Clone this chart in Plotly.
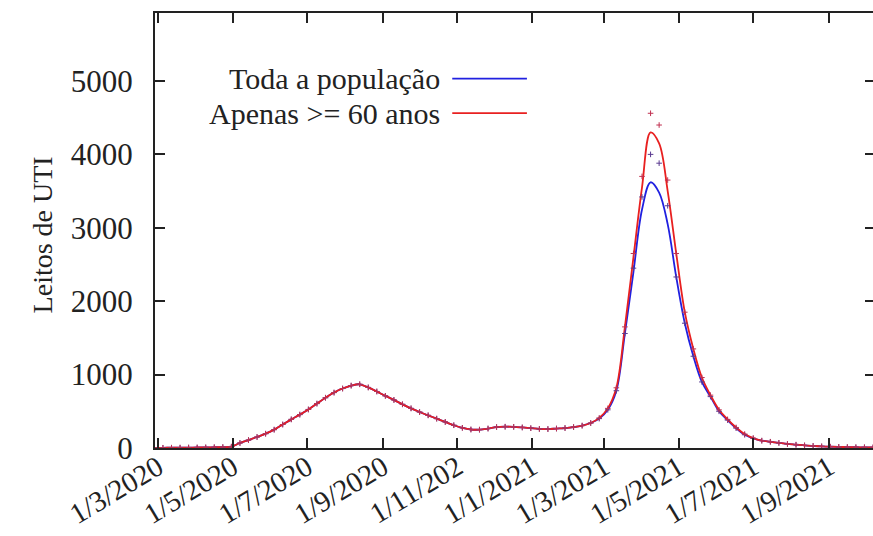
import pandas as pd
import plotly.graph_objects as go

# weekly sample dates
dates = pd.date_range("2020-02-27", periods=85, freq="7D")

toda = [3, 3, 4, 5, 6, 7, 8, 10, 12, 18,
        68, 108, 150, 195, 250, 320, 390, 455, 525, 605,
        685, 755, 810, 850, 868, 825, 770, 710, 655, 595,
        540, 490, 445, 400, 355, 310, 275, 252, 250, 265,
        285, 290, 288, 280, 270, 260, 258, 265, 272, 285,
        305, 340, 400, 520, 780, 1560, 2400, 3250, 3620, 3480,
        3050, 2330, 1700, 1250, 900, 700, 500, 380, 270, 180,
        130, 100, 85, 70, 55, 45, 35, 28, 22, 18,
        15, 12, 10, 9, 8]

idosos = [3, 3, 4, 5, 6, 7, 8, 10, 12, 18,
          68, 108, 150, 195, 250, 320, 390, 455, 525, 605,
          685, 755, 810, 850, 868, 825, 770, 710, 655, 595,
          540, 490, 445, 400, 355, 310, 275, 252, 250, 265,
          285, 290, 288, 280, 270, 260, 258, 265, 272, 285,
          305, 340, 410, 540, 820, 1650, 2600, 3550, 4300, 4150,
          3500, 2650, 1850, 1350, 960, 720, 520, 390, 280, 190,
          135, 100, 85, 70, 55, 45, 35, 28, 22, 18,
          15, 12, 10, 9, 8]

toda_sup = toda[:56] + [2450, 3420, 4000, 3880, 3300] + toda[61:]
idosos_sup = idosos[:56] + [2650, 3700, 4560, 4400, 3650] + idosos[61:]

tick_dates = ["2020-03-01", "2020-05-01", "2020-07-01", "2020-09-01", "2020-11-01",
              "2021-01-01", "2021-03-01", "2021-05-01", "2021-07-01", "2021-09-01"]
tick_labels = ["1/3/2020", "1/5/2020", "1/7/2020", "1/9/2020", "1/11/202",
               "1/1/2021", "1/3/2021", "1/5/2021", "1/7/2021", "1/9/2021"]
y_ticks = [0, 1000, 2000, 3000, 4000, 5000]

BLUE = "#2020e0"
RED = "#e82020"
FONT = "Liberation Serif"
TXT = "#222222"

fig = go.Figure()
fig.add_trace(go.Scatter(x=dates, y=toda, mode="lines", line=dict(color=BLUE, width=1.8, shape="spline"),
                         name="Toda a população", showlegend=False))
fig.add_trace(go.Scatter(x=dates, y=idosos, mode="lines", line=dict(color=RED, width=1.8, shape="spline"),
                         name="Apenas >= 60 anos", showlegend=False))
fig.add_trace(go.Scatter(x=dates, y=toda_sup, mode="markers",
                         marker=dict(symbol="cross-thin", size=4, line=dict(color="#5a3a90", width=1)),
                         showlegend=False, hoverinfo="skip"))
fig.add_trace(go.Scatter(x=dates, y=idosos_sup, mode="markers",
                         marker=dict(symbol="cross-thin", size=4, line=dict(color="#c03050", width=1)),
                         showlegend=False, hoverinfo="skip"))
fig.add_trace(go.Scatter(x=[dates[0]], y=[0], yaxis="y2", mode="markers",
                         marker=dict(opacity=0), showlegend=False, hoverinfo="skip"))

fig.update_layout(
    width=873, height=536,
    margin=dict(l=155, r=0, t=13, b=88),
    paper_bgcolor="white", plot_bgcolor="white",
    font=dict(family=FONT, color=TXT),
    xaxis=dict(type="date", range=["2020-02-27 12:00", "2021-10-07"],
               tickvals=tick_dates, ticktext=tick_labels, tickangle=-31, automargin=False,
               ticks="inside", ticklen=10, tickwidth=1.5, tickcolor=TXT,
               showline=True, linecolor=TXT, linewidth=2, mirror="ticks",
               showgrid=False, zeroline=False, tickfont=dict(size=29, family=FONT),
               ticklabelstandoff=-11),
    yaxis=dict(range=[0, 5926], tickvals=y_ticks, ticks="inside", ticklen=10, tickwidth=1.5,
               tickcolor=TXT, showline=True, linecolor=TXT, linewidth=2, automargin=False,
               showgrid=False, zeroline=False, tickfont=dict(size=31, family=FONT),
               ticklabelstandoff=14),
    yaxis2=dict(range=[0, 5926], tickvals=y_ticks, overlaying="y", side="right", automargin=False,
                ticks="inside", ticklen=8, tickwidth=1.5, tickcolor=TXT,
                showline=False, showgrid=False, zeroline=False, showticklabels=False),
)

fig.add_annotation(text="Leitos de UTI", xref="paper", yref="paper", x=-0.181, y=0.49,
                   textangle=-90, showarrow=False, font=dict(size=28, family=FONT, color=TXT))
legend_items = [("Toda a população", BLUE, 0.849), ("Apenas >= 60 anos", RED, 0.770)]
for label, color, yy in legend_items:
    fig.add_annotation(text=label, xref="paper", yref="paper", x=0.399, y=yy,
                       xanchor="right", yanchor="middle", borderpad=0,
                       showarrow=False, font=dict(size=30, family=FONT, color=TXT))
    fig.add_shape(type="line", xref="paper", yref="paper", x0=0.414, x1=0.518, y0=yy, y1=yy,
                  line=dict(color=color, width=1.8))

fig.write_html("out.html")
